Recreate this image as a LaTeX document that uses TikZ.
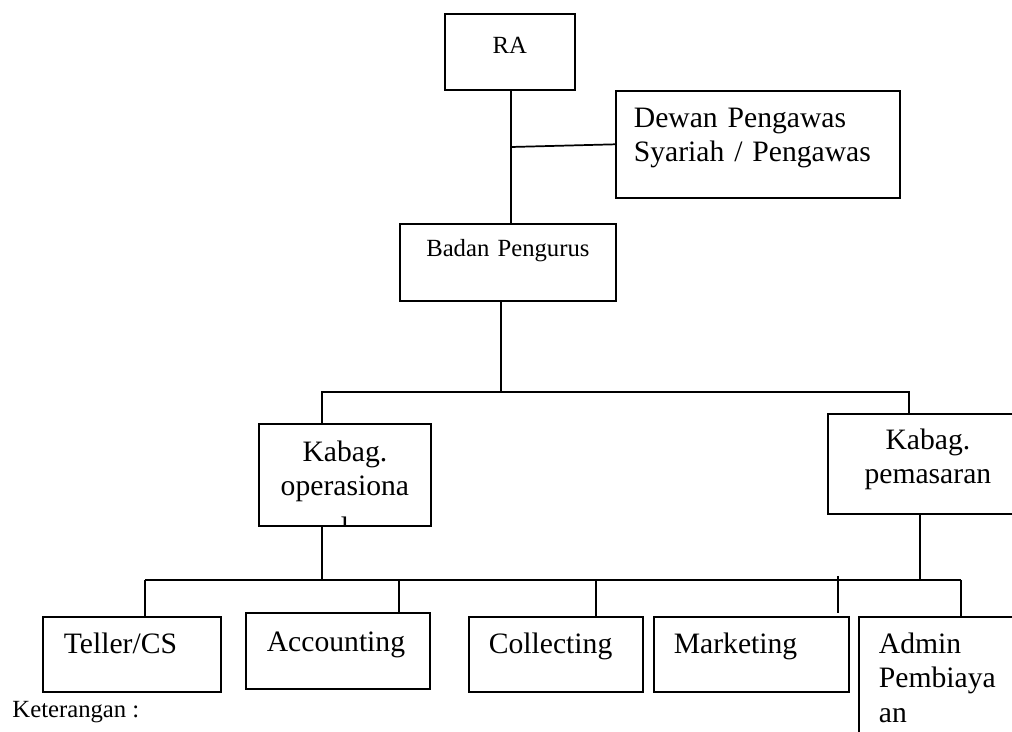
\documentclass[tikz,border=0pt]{standalone}
\usepackage{fontspec}
\setmainfont{Liberation Serif}
\tikzstyle{unit} = [rectangle, draw, line width=0.7pt, anchor=north west, inner ysep=0pt,
    font=\fontsize{12}{13.8}\selectfont]
\tikzstyle{leftunit} = [unit, align=left, inner xsep=8.1pt]
\tikzstyle{midunit} = [unit, align=center, inner xsep=0pt]
\tikzstyle{small} = [font=\fontsize{10}{11.5}\selectfont]
\tikzstyle{line} = [draw, line width=0.7pt]

\begin{document}
\begin{tikzpicture}[x=0.405pt, y=-0.405pt]
	\useasboundingbox (0,0) rectangle (1012,732);

		\node [midunit, small, text width=52.6pt, text height=16.2pt, text depth=14.6pt] (ra) at (444,13) {RA};
		\node [leftunit, inner xsep=7.3pt, text width=100.4pt, text height=15pt, text depth=28.3pt] (dewan) at (615,90) {Dewan Pengawas\\Syariah / Pengawas};
		\node [midunit, small, text width=87.5pt, text height=13.4pt, text depth=17.8pt] (badan) at (399,223) {Badan Pengurus};

		\node [unit, minimum width=69.7pt, minimum height=41.3pt, inner sep=0pt,
			path picture={\node [midunit, draw=none, anchor=north, text width=69.7pt, text height=15pt] (kopText) at (path picture bounding box.north) {Kabag.\\operasiona\\[3pt]l};}] (kop) at (258,423) {};
		\node [midunit, text width=81pt, text height=14.6pt, text depth=25.9pt] (kpem) at (827,413) {Kabag.\\pemasaran};

		\node [leftunit, inner xsep=8.5pt, text width=55.1pt, text height=15pt, text depth=15.4pt] (teller) at (42,616) {Teller/CS};
		\node [leftunit, inner xsep=8.5pt, text width=57.5pt, text height=15.8pt, text depth=15pt] (acct) at (245,612) {Accounting};
		\node [leftunit, text width=54.3pt, text height=15pt, text depth=15.4pt] (coll) at (468,616) {Collecting};
		\node [leftunit, text width=62.8pt, text height=15pt, text depth=15.4pt] (mark) at (653,616) {Marketing};
		\node [leftunit, text width=54.7pt, text height=15pt, text depth=66pt] (admin) at (858,616) {Admin\\Pembiaya\\an};

		\node [small, anchor=base west, inner sep=0pt] (note) at (12,718) {Keterangan :};

		\coordinate (raTap) at (511,147);
		\coordinate (badanTap) at (501,392);
		\coordinate (opTop) at (322,392);
		\coordinate (pemTop) at (909,392);
		\coordinate (kopTap) at (322,580);
		\coordinate (kpemTap) at (920,580);
		\coordinate (tellerTop) at (145,580);
		\coordinate (acctTop) at (399,580);
		\coordinate (collTop) at (596,580);
		\coordinate (markTop) at (838,580);
		\coordinate (adminTop) at (961,580);

		\path [line] (ra.south -| raTap) -- (badan.north -| raTap);
		\path [line] (raTap) -- (dewan.west);
		\path [line] (badan.south -| badanTap) -- (badanTap);
		\path [line] (kop.north -| opTop) -- (opTop) -- (pemTop) -- (kpem.north -| pemTop);
		\path [line] (kop.south -| kopTap) -- (kopTap);
		\path [line] (kpem.south -| kpemTap) -- (kpemTap);
		\path [line] (tellerTop) -- (adminTop);
		\path [line] (tellerTop) -- (teller.north -| tellerTop);
		\path [line] (acctTop) -- (acct.north -| acctTop);
		\path [line] (collTop) -- (coll.north -| collTop);
		\path [line] (markTop) ++(0,-4) -- ++(0,37);
		\path [line] (adminTop) -- (admin.north -| adminTop);
	\end{tikzpicture}
\end{document}
